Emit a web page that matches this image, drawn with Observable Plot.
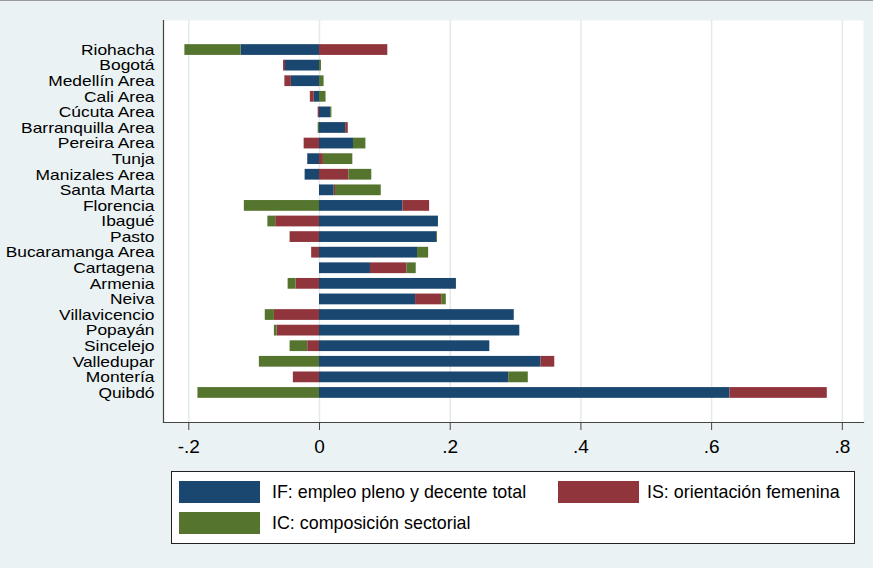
<!DOCTYPE html>
<html>
<head>
<meta charset="utf-8">
<script src="https://cdn.jsdelivr.net/npm/d3@7"></script>
<script src="https://cdn.jsdelivr.net/npm/@observablehq/plot@0.6"></script>
<style>
  html, body { margin: 0; padding: 0; background: #eaf2f3; width: 873px; height: 568px; overflow: hidden;
    font-family: "Liberation Sans", Arial, Helvetica, sans-serif; }
  #chart { position: absolute; left: 0; top: 0; }
  #topline { position: absolute; left: 0; top: 0; width: 873px; height: 1px; background: #9a9a9a; }
  #legend { position: absolute; left: 171px; top: 471px; width: 684px; height: 73px; box-sizing: border-box;
    border: 1px solid #222; background: #fff; }
  .sw { position: absolute; width: 81px; height: 22px; }
  .lt { position: absolute; font-size: 19px; line-height: 22px; white-space: nowrap; color: #000;
    transform: scaleX(0.94); transform-origin: left center; }
</style>
</head>
<body>
<div id="chart"></div>
<div id="topline"></div>
<div id="legend"></div>
<script>
// Categories (top to bottom)
const cities = ["Riohacha","Bogotá","Medellín Area","Cali Area","Cúcuta Area","Barranquilla Area",
  "Pereira Area","Tunja","Manizales Area","Santa Marta","Florencia","Ibagué","Pasto",
  "Bucaramanga Area","Cartagena","Armenia","Neiva","Villavicencio","Popayán","Sincelejo",
  "Valledupar","Montería","Quibdó"];

// Series values
const IF = [-0.120,-0.052,-0.043,-0.008,0.017,0.040,0.052,-0.018,-0.022,0.0225,0.1275,0.182,0.179,
  0.150,0.078,0.2095,0.147,0.298,0.3065,0.2606,0.339,0.2895,0.628];
const IS = [0.1045,-0.003,-0.010,-0.006,-0.002,0.004,-0.0235,0.006,0.045,0.002,0.041,-0.067,-0.045,
  -0.012,0.056,-0.036,0.040,-0.069,-0.065,-0.018,0.021,-0.040,0.149];
const IC = [-0.086,0.003,0.007,0.010,0.002,-0.002,0.019,0.045,0.035,0.070,-0.115,-0.012,0.0015,
  0.017,0.014,-0.012,0.007,-0.014,-0.004,-0.027,-0.092,0.030,-0.186];

const seriesKeys = ["IF","IS","IC"];
const seriesLabels = ["IF: empleo pleno y decente total","IS: orientación femenina","IC: composición sectorial"];
const seriesColors = ["#1a476f","#90353b","#55752f"];

// Axis ticks
const xTicks = [-0.2, 0, 0.2, 0.4, 0.6, 0.8];
const xTickLabels = ["-.2","0",".2",".4",".6",".8"];
const xDomain = [-0.2387, 0.8324];

const seriesValues = {IF, IS, IC};
const data = [];
cities.forEach((c, i) => {
  seriesKeys.forEach(k => data.push({city: c, series: k, value: seriesValues[k][i]}));
});

const fmt = d => xTickLabels[xTicks.findIndex(t => Math.abs(t - d) < 1e-9)];

const chart = Plot.plot({
  width: 873,
  height: 462,
  marginLeft: 163,
  marginRight: 10,
  marginTop: 20,
  marginBottom: 40,
  style: {background: "transparent", fontFamily: "'Liberation Sans', Arial, sans-serif", color: "#000", overflow: "visible"},
  x: {domain: xDomain, label: null},
  y: {domain: cities, paddingInner: 0.31, paddingOuter: 1.55, round: false, label: null},
  color: {domain: seriesKeys, range: seriesColors},
  marks: [
    Plot.frame({fill: "white", stroke: null}),
    Plot.gridX(xTicks, {stroke: "#e1eaec", strokeOpacity: 1, strokeWidth: 1.5}),
    Plot.barX(data, Plot.stackX({x: "value", y: "city", fill: "series"})),
    Plot.frame({anchor: "left", stroke: "#444", strokeWidth: 1.2}),
    Plot.frame({anchor: "bottom", stroke: "#444", strokeWidth: 1.2}),
    Plot.axisX({ticks: xTicks, tickFormat: fmt, tickSize: 8, tickPadding: 9, fontSize: 19, stroke: "#444"}),
    Plot.axisY({tickSize: 0, tickPadding: 9, fontSize: 15})
  ]
});
document.getElementById("chart").appendChild(chart);

// Stretch city labels horizontally (the reference type is wide)
d3.select(chart).selectAll('g[aria-label="y-axis tick label"] text').each(function() {
  const tr = this.getAttribute("transform") || "";
  this.setAttribute("transform", tr + " scale(1.16,1)");
});

// Legend
const legend = document.getElementById("legend");
const pos = [
  {sx: 7, sy: 9, tx: 100},
  {sx: 386, sy: 9, tx: 475},
  {sx: 7, sy: 40, tx: 100}
];
seriesKeys.forEach((k, i) => {
  const p = pos[i];
  const sw = document.createElement("div");
  sw.className = "sw";
  sw.style.left = p.sx + "px";
  sw.style.top = p.sy + "px";
  sw.style.background = seriesColors[i];
  legend.appendChild(sw);
  const t = document.createElement("div");
  t.className = "lt";
  t.style.left = p.tx + "px";
  t.style.top = p.sy + "px";
  t.textContent = seriesLabels[i];
  legend.appendChild(t);
});
</script>
</body>
</html>
